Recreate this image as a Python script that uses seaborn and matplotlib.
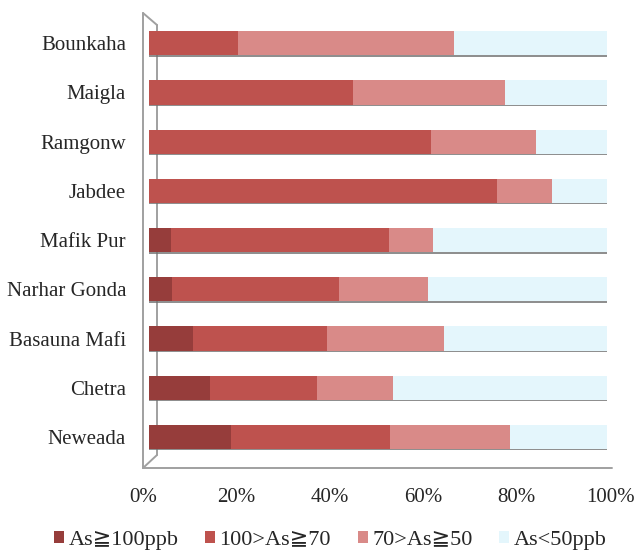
import pandas as pd
import matplotlib.pyplot as plt
import seaborn as sns
from matplotlib.lines import Line2D
from matplotlib.patches import Patch

# Data (percent of wells per class)
sites = ["Bounkaha", "Maigla", "Ramgonw", "Jabdee", "Mafik Pur",
         "Narhar Gonda", "Basauna Mafi", "Chetra", "Neweada"]
ge100 = [0, 0, 0, 0, 4.7, 5.0, 9.6, 13.3, 17.9]
r70_100 = [19.5, 44.5, 61.6, 76.0, 47.7, 36.5, 29.2, 23.4, 34.7]
r50_70 = [47.1, 33.3, 23.0, 12.0, 9.5, 19.4, 25.7, 16.6, 26.3]
lt50 = [33.4, 22.2, 15.4, 12.0, 38.1, 39.1, 35.5, 46.7, 21.1]

labels = ["As≧100ppb", "100>As≧70", "70>As≧50", "As<50ppb"]
colors = ["#963d3b", "#be524e", "#d98a88", "#e4f6fc"]
xticks = [0, 20, 40, 60, 80, 100]

sns.set_theme(style="white")
plt.rcParams["font.family"] = ["Liberation Serif", "DejaVu Serif", "DejaVu Sans"]

df = pd.DataFrame({"site": sites, "a": ge100, "b": r70_100, "c": r50_70, "d": lt50})
cum = df[["a", "b", "c", "d"]].cumsum(axis=1)

W, H = 641, 550
fig = plt.figure(figsize=(W / 100, H / 100), dpi=100)
# axes spans the front floor edge (143..612 px); bars start at 149 px
ax = fig.add_axes([143 / W, 1 - 462 / H, 469 / W, 444 / H])
ax.patch.set_visible(False)

# stacked bars: draw cumulative totals from the longest down
for col, c in zip(["d", "c", "b", "a"], colors[::-1]):
    sns.barplot(x=cum[col], y=df["site"], orient="h", color=c, width=0.49,
                saturation=1, linewidth=0, ax=ax, zorder=3)

# shadow line under each bar
for i in range(len(sites)):
    ax.hlines(i + 0.255, 0, 100, color="#6e6e6e", lw=1.1, zorder=2)

ax.set_xlim(-6 / 4.58, 463 / 4.58)
ax.set_ylim(8.51, -0.514)
ax.set_xlabel("")
ax.set_ylabel("")
ax.set_xticks([])
for s in ax.spines.values():
    s.set_visible(False)
ax.tick_params(axis="y", length=0, pad=12.2, labelsize=15)

# percent labels sit on the front edge of the 3D floor
def fwd(p):
    return (p * 4.58 + 6) / 4.67

def inv(v):
    return (v * 4.67 - 6) / 4.58

sec = ax.secondary_xaxis("bottom", functions=(fwd, inv))
sec.set_xticks(xticks)
sec.set_xticklabels([f"{t}%" for t in xticks])
sec.tick_params(length=0, pad=19, labelsize=15)
for s in sec.spines.values():
    s.set_visible(False)

# 3D wall / floor frame
def px(x, y):
    return x / W, 1 - y / H

frame = [((143, 13), (143, 468)), ((157, 25), (157, 455)),
         ((143, 13), (157, 25)), ((143, 468), (157, 455)),
         ((143, 468), (612, 468))]
for p0, p1 in frame:
    a, b = px(*p0), px(*p1)
    fig.add_artist(Line2D([a[0], b[0]], [a[1], b[1]], transform=fig.transFigure,
                          color="#a0a0a0", lw=1.4, zorder=-1))

handles = [Patch(facecolor=c, edgecolor="none") for c in colors]
fig.legend(handles, labels, loc="center", bbox_to_anchor=(0.515, 0.018), ncol=4,
           frameon=False, fontsize=16, handlelength=0.45, handleheight=0.45,
           handletextpad=0.2, columnspacing=1.2, borderpad=0, borderaxespad=0)

fig.savefig("out.png", dpi=100)
